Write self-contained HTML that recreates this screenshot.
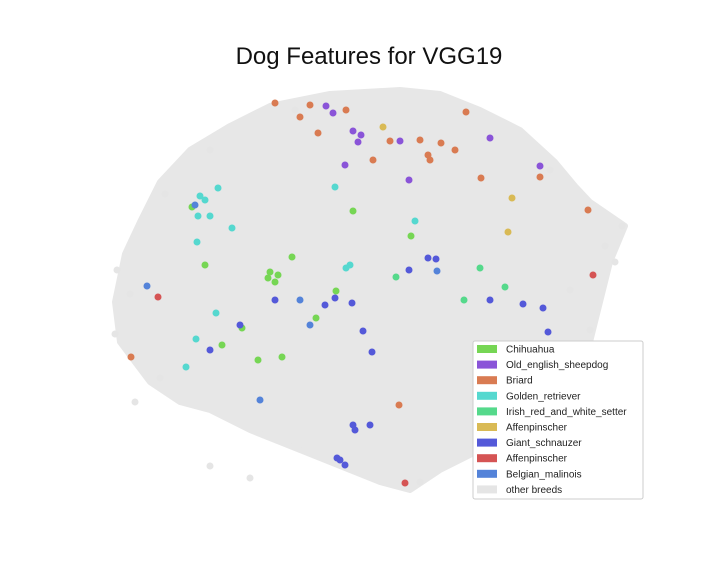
<!DOCTYPE html>
<html><head><meta charset="utf-8"><style>
body{margin:0;background:#fff;}
svg{display:block;font-family:"Liberation Sans",sans-serif;}
</style></head><body>
<svg id="chart" width="720" height="576" viewBox="0 0 720 576">
<rect width="720" height="576" fill="#fff"/>
<text x="369" y="64" font-size="24" text-anchor="middle" fill="#111">Dog Features for VGG19</text>
<g id="cloud"></g>
<g id="points"></g>
<g id="legend"></g>
</svg>
<script>
const cloudX=[56,64,72,80,87,91,94,101,98,96,94,88,80,72,64,58,52,46,36,26,18,12,6,0,-1,1,4,8,14,22,30,42];
const cloudY=[100,99,95,90,82,76,72,66,57,47,37,28,18,10,5,0,2,5,10,15,20,22,27,37,47,59,67,77,85,91,96,99];
const outlierX=[-1,2,9,18,100.4,99,97,94,18,8,-0.6,3,90,86,60,35,26];
const outlierY=[39,49,74,85,66,57,61,40,6,28,55,22,50,80,2,95,3];
const categories=["Chihuahua","Old_english_sheepdog","Briard","Golden_retriever","Irish_red_and_white_setter","Affenpinscher","Giant_schnauzer","Affenpinscher","Belgian_malinois","other breeds"];
const colors=["#76d654","#8a54d8","#d97b52","#55d8cf","#55d98b","#d9ba55","#5459d9","#d55454","#5483d9","#e5e5e5"];
const seriesX=[
[30,31,31.6,29.6,34.4,17,14.4,24.4,27.6,32.4,43.2,46.6,58.2,20.4,39.2],
[41.2,42.6,46.6,48.2,47.6,56,57.8,84,74,45],
[31,36,39.6,45.2,54,60,61.6,64.2,69.2,72.2,84,93.6,2.2,55.8,38,50.6,67,62],
[16,17,19.6,18,15.6,15.4,22.4,46,45.2,59,13.2,15.2,19.2,43],
[55.2,72,68.8,77],
[52.6,78.4,77.6],
[63.2,61.6,57.8,41,43,46.4,50.4,48.6,46.6,47,44,45,43.4,50,24,31,18,74,85.6,80.6,84.6],
[7.6,94.6,57],
[5.4,63.4,28,36,15,38,82]];
const seriesY=[
[54.5,52,53.75,53,58.25,56.25,70.75,40.5,32.5,33.25,49.75,69.75,63.5,36.25,43],
[96,94.25,89.75,88.75,87,87.25,77.5,81,88,81.25],
[96.75,93.25,89.25,95,87.25,87.5,83.75,86.75,94.5,78,78.25,70,33.25,21.25,96.25,82.5,85,82.5],
[73.5,72.5,75.5,68.5,68.5,62,65.5,56.25,55.5,67.25,30.75,37.75,44.25,75.75],
[53.25,55.5,47.5,50.75],
[90.75,73,64.5],
[57.75,58,55,46.25,48,46.75,34.5,39.75,16.25,15,7.5,6.25,8,16.25,41.25,47.5,35,47.5,39.5,46.5,45.5],
[48.25,53.75,1.75],
[51,54.75,22.5,47.5,71.25,41.25,33.75]];
function xs(v){return 120+v*5;}
function ys(v){return 490-v*4;}
const NS="http://www.w3.org/2000/svg";
const cloud=document.getElementById('cloud');
const poly=document.createElementNS(NS,'polygon');
poly.setAttribute('points',cloudX.map((v,i)=>xs(v)+','+ys(cloudY[i])).join(' '));
poly.setAttribute('fill','#e7e7e7');
poly.setAttribute('stroke','#e7e7e7');
poly.setAttribute('stroke-width','6');
poly.setAttribute('stroke-linejoin','round');


cloud.appendChild(poly);
outlierX.forEach((v,i)=>{
const c=document.createElementNS(NS,'circle');
c.setAttribute('cx',xs(v));c.setAttribute('cy',ys(outlierY[i]));c.setAttribute('r',3.5);c.setAttribute('fill','#e5e5e5');


cloud.appendChild(c);});
const pg=document.getElementById('points');
seriesX.forEach((arr,s)=>{arr.forEach((v,i)=>{
const c=document.createElementNS(NS,'circle');
c.setAttribute('cx',xs(v));c.setAttribute('cy',ys(seriesY[s][i]));c.setAttribute('r',3.5);
c.setAttribute('fill',colors[s]);


pg.appendChild(c);});});
const lg=document.getElementById('legend');
const box=document.createElementNS(NS,'rect');
box.setAttribute('x',473);box.setAttribute('y',341);box.setAttribute('width',170);box.setAttribute('height',158);
box.setAttribute('fill','#fff');box.setAttribute('stroke','#ccc');box.setAttribute('rx',2);


lg.appendChild(box);
categories.forEach((n,i)=>{
const y=349+i*15.6;
const g=document.createElementNS(NS,'g');


const r=document.createElementNS(NS,'rect');
r.setAttribute('x',477);r.setAttribute('y',y-4);r.setAttribute('width',20);r.setAttribute('height',8);r.setAttribute('fill',colors[i]);
g.appendChild(r);
const t=document.createElementNS(NS,'text');
t.setAttribute('x',506);t.setAttribute('y',y+3.5);t.setAttribute('font-size','10');t.setAttribute('fill','#222');
t.textContent=n;g.appendChild(t);
lg.appendChild(g);});
</script>
</body></html>
